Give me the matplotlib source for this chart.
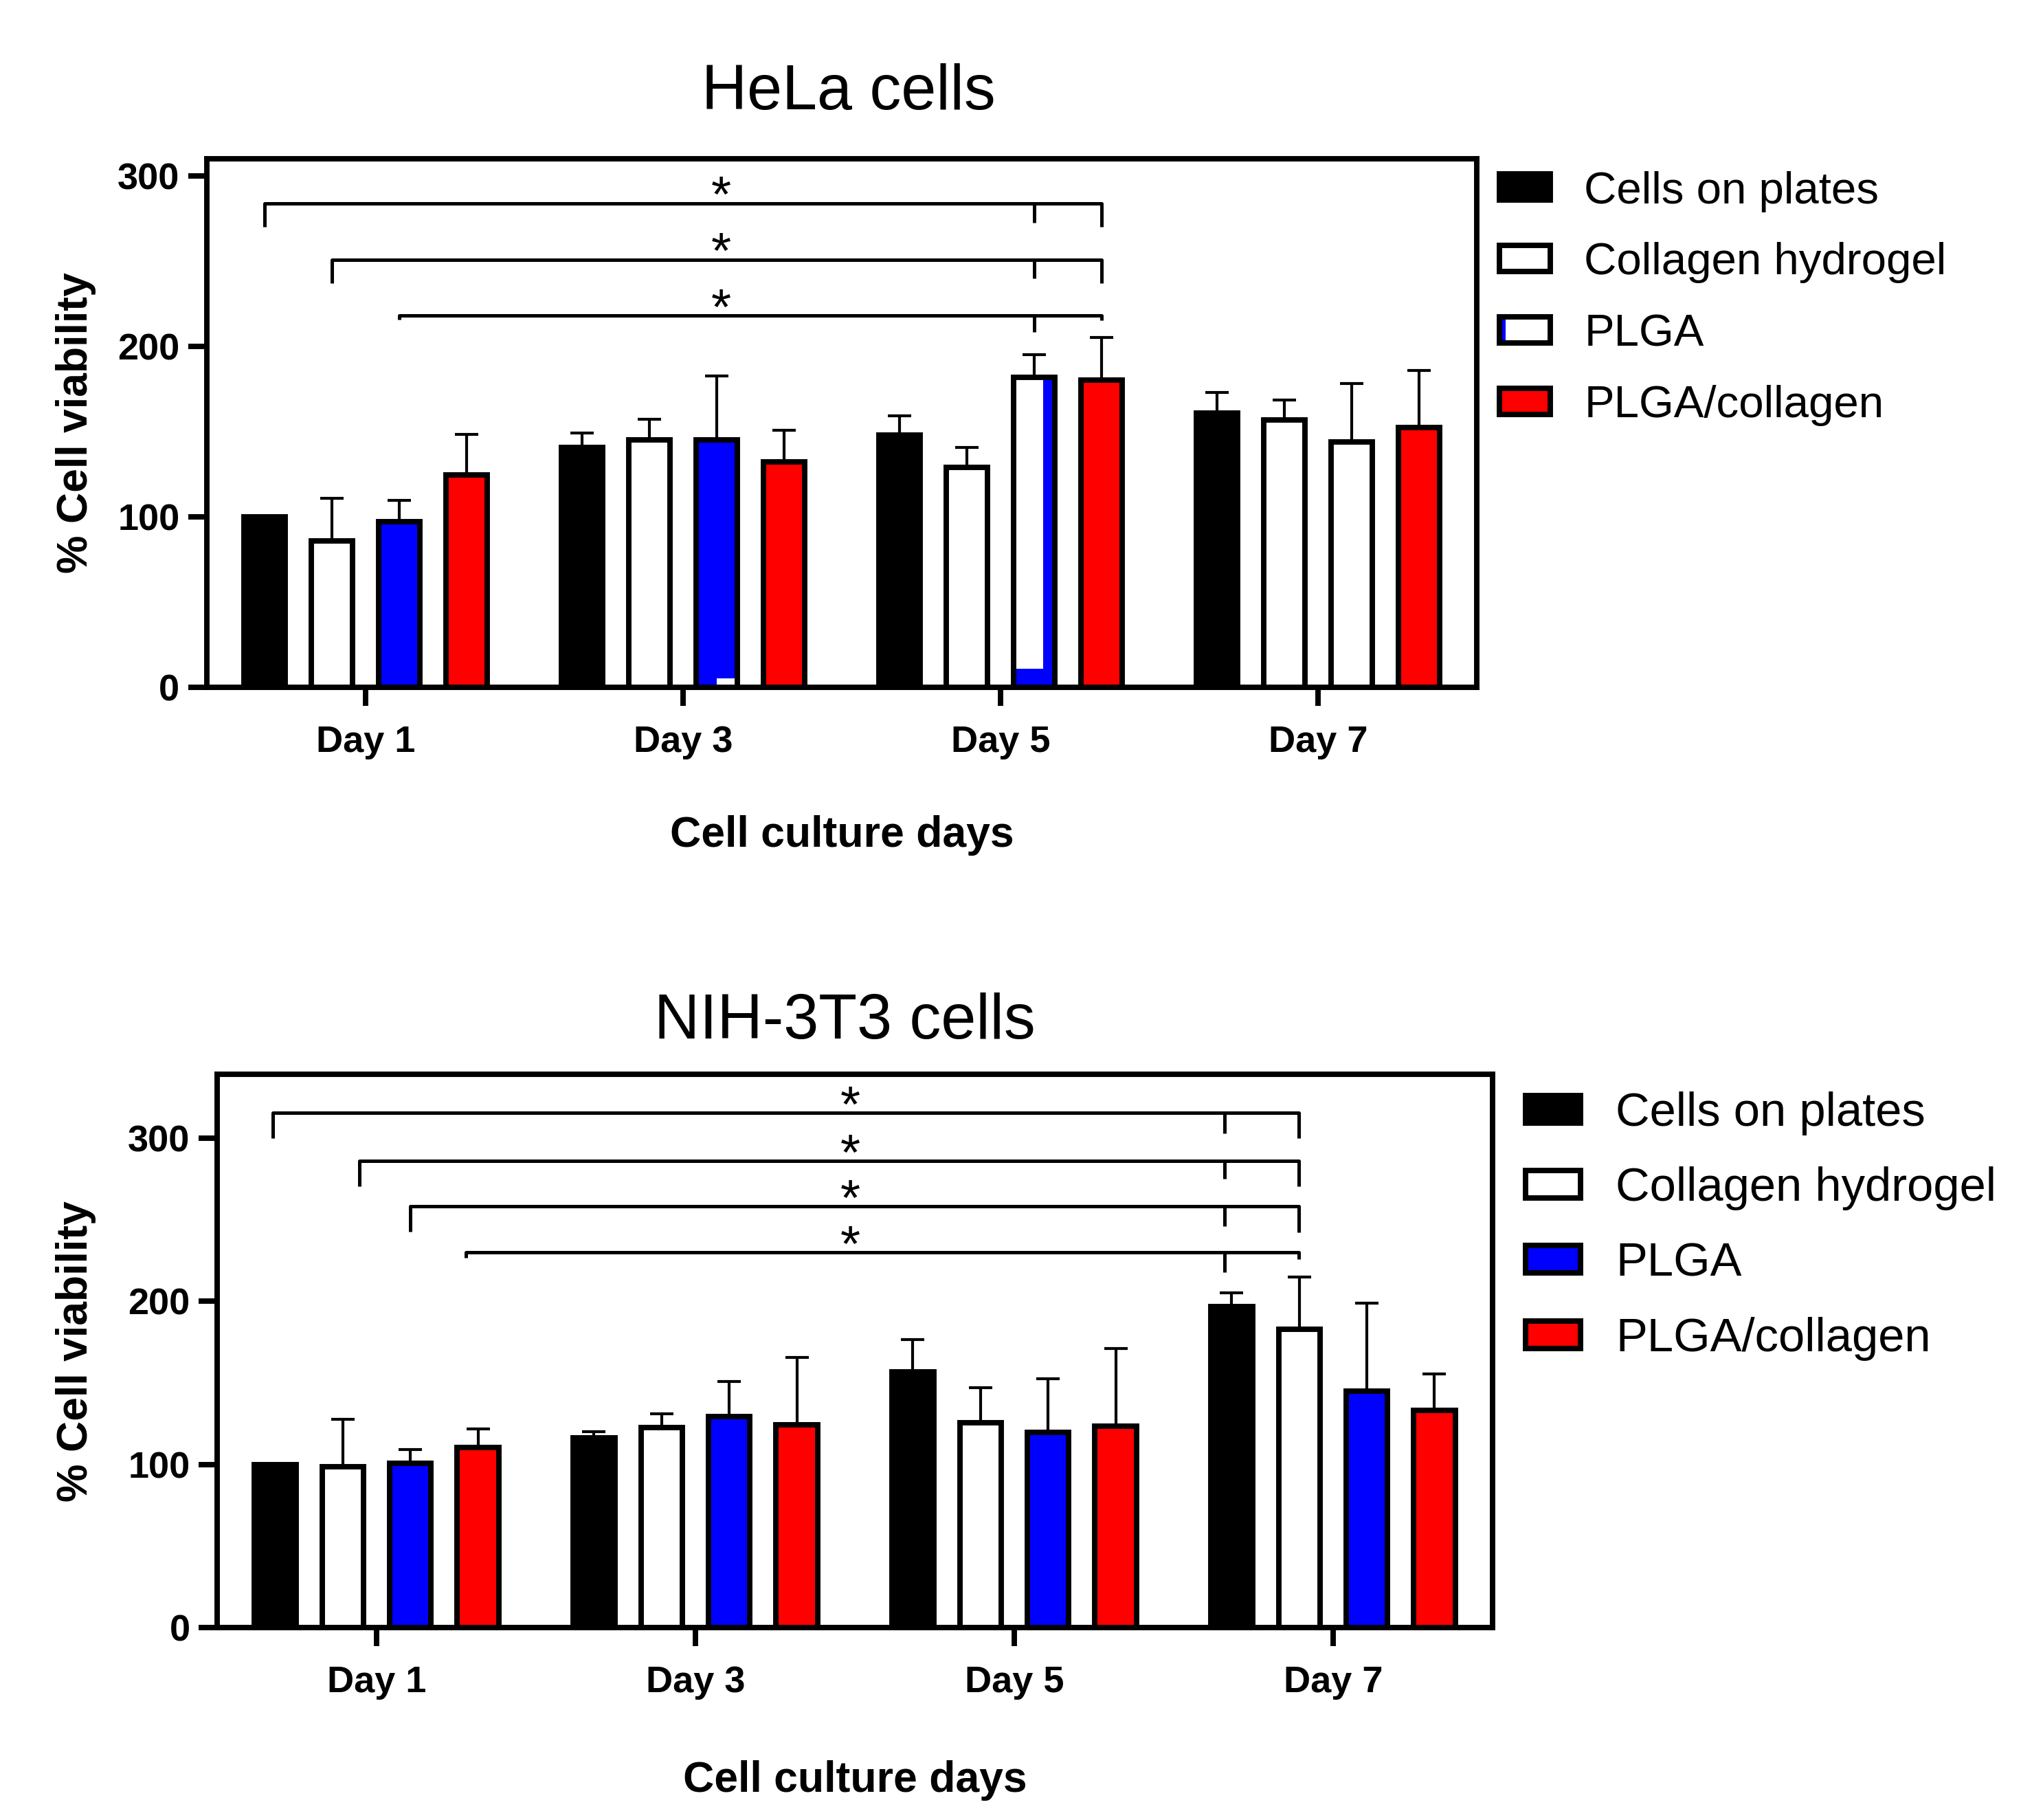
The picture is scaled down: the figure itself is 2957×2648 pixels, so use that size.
import matplotlib
matplotlib.use("Agg")
import matplotlib.pyplot as plt
import numpy as np
from matplotlib.legend_handler import HandlerBase
from matplotlib.patches import Patch, Rectangle

plt.rcParams["font.family"] = ["Liberation Sans", "DejaVu Sans"]

DAYS = ["Day 1", "Day 3", "Day 5", "Day 7"]
GROUPS = ["Cells on plates", "Collagen hydrogel", "PLGA", "PLGA/collagen"]

# HeLa cells (% viability, upper SD)
HELA_CELLS = [100.0, 140.8, 148.0, 161.0]
HELA_CELLS_ERR = [0.0, 8.2, 11.0, 12.0]
HELA_COLLAGEN = [86.0, 145.2, 129.0, 156.6]
HELA_COLLAGEN_ERR = [25.0, 12.1, 11.6, 11.8]
HELA_PLGA = [97.0, 145.2, 181.7, 143.9]
HELA_PLGA_ERR = [12.8, 37.2, 13.3, 34.1]
HELA_PLGA_COL = [124.4, 132.3, 180.0, 152.2]
HELA_PLGA_COL_ERR = [24.1, 18.5, 25.0, 33.4]

# NIH-3T3 cells
NIH_CELLS = [100.0, 116.3, 156.7, 196.5]
NIH_CELLS_ERR = [0.0, 3.9, 19.9, 8.5]
NIH_COLLAGEN = [98.5, 122.7, 125.6, 182.9]
NIH_COLLAGEN_ERR = [29.0, 8.5, 21.4, 31.8]
NIH_PLGA = [100.8, 129.2, 119.5, 145.0]
NIH_PLGA_ERR = [8.5, 21.4, 32.8, 53.9]
NIH_PLGA_COL = [110.5, 124.1, 123.4, 133.1]
NIH_PLGA_COL_ERR = [11.4, 41.6, 47.8, 22.4]

# significance brackets: level, left x, left leg end, mid leg end, right leg end
HELA_SIG_LEVEL = [283.8, 250.8, 218.0]
HELA_SIG_FROM = [-0.318, -0.106, 0.106]
HELA_SIG_FROM_LEG = [270.0, 237.0, 215.8]
HELA_SIG_MID = 2.106
HELA_SIG_MID_LEG = [272.6, 240.0, 208.4]
HELA_SIG_TO = 2.318
HELA_SIG_TO_LEG = [270.0, 237.0, 215.3]
HELA_STAR_X = 1.12

NIH_SIG_LEVEL = [315.3, 285.8, 258.0, 229.8]
NIH_SIG_FROM = [-0.325, -0.055, 0.105, 0.28]
NIH_SIG_FROM_LEG = [300.0, 270.5, 242.7, 226.4]
NIH_SIG_MID = 2.66
NIH_SIG_MID_LEG = [302.9, 275.0, 246.0, 217.9]
NIH_SIG_TO = 2.893
NIH_SIG_TO_LEG = [300.0, 270.3, 242.4, 225.9]
NIH_STAR_X = 1.486

COLORS = ["black", "white", "blue", "red"]
EDGE_LW = 1.9
BAR_W = 0.13
BAR_STEP = 0.212


class StripHandler(HandlerBase):
    """White legend box with a thin blue strip, as in the HeLa legend."""

    def create_artists(self, legend, orig_handle, xdescent, ydescent,
                       width, height, fontsize, trans):
        x0, y0 = -xdescent, -ydescent
        back = Rectangle((x0, y0), width, height, facecolor="white", lw=0,
                         transform=trans)
        strip = Rectangle((x0, y0), width * 0.12, height, facecolor="blue",
                          lw=0, transform=trans)
        box = Rectangle((x0, y0), width, height, facecolor="none",
                        edgecolor="black", lw=EDGE_LW, transform=trans)
        return [back, strip, box]


def draw_bars(ax, means, errs, faces):
    x = np.arange(len(DAYS))
    for i, (m, e, f) in enumerate(zip(means, errs, faces)):
        xi = x + (i - 1.5) * BAR_STEP
        ax.errorbar(xi, m, yerr=[np.zeros(len(e)), e], fmt="none",
                    ecolor="black", elinewidth=1.0, capsize=4, capthick=1.0,
                    zorder=2)
        ax.bar(xi, m, BAR_W, color=f, lw=0, zorder=3)
    return x


def outline_bars(ax, means):
    x = np.arange(len(DAYS))
    for i, m in enumerate(means):
        xi = x + (i - 1.5) * BAR_STEP
        ax.bar(xi, m, BAR_W, facecolor="none", edgecolor="black",
               lw=EDGE_LW, zorder=5)


def draw_brackets(ax, level, x_from, from_leg, x_mid, mid_leg, x_to, to_leg,
                  star_x):
    kw = dict(color="black", lw=1.2, solid_capstyle="butt", zorder=4)
    for lv, xf, fl, ml, tl in zip(level, x_from, from_leg, mid_leg, to_leg):
        ax.plot([xf, xf, x_to, x_to], [fl, lv, lv, tl], **kw)
        ax.plot([x_mid, x_mid], [lv, ml], **kw)
        ax.annotate("*", (star_x, lv), xytext=(0, -3),
                    textcoords="offset points", ha="center", va="baseline",
                    fontsize=18)


def style_axes(ax, ymax):
    ax.set_xlim(-0.5, 3.5)
    ax.set_ylim(0, ymax)
    ax.set_yticks([0, 100, 200, 300])
    ax.set_xticks(np.arange(len(DAYS)))
    ax.set_xticklabels(DAYS)
    for s in ax.spines.values():
        s.set_linewidth(EDGE_LW)
    ax.tick_params(axis="y", length=6.5, width=EDGE_LW, labelsize=13, pad=3)
    ax.tick_params(axis="x", length=6.5, width=EDGE_LW, labelsize=13, pad=6.7)
    for lab in ax.get_xticklabels() + ax.get_yticklabels():
        lab.set_fontweight("bold")


fig = plt.figure(figsize=(2957 / 300, 2648 / 300), dpi=300)
ax1 = fig.add_axes([0.1018, 0.6224, 0.7268 - 0.1018, 0.9128 - 0.6224])
ax2 = fig.add_axes([0.1069, 0.1057, 0.7345 - 0.1069, 0.4097 - 0.1057])

# HeLa panel
hela_means = [HELA_CELLS, HELA_COLLAGEN, HELA_PLGA, HELA_PLGA_COL]
hela_errs = [HELA_CELLS_ERR, HELA_COLLAGEN_ERR, HELA_PLGA_ERR, HELA_PLGA_COL_ERR]
hela_faces = ["black", "white", ["blue", "blue", "white", "white"], "red"]
x = draw_bars(ax1, hela_means, hela_errs, hela_faces)
plga_x = x + 0.5 * BAR_STEP
# partial pattern fills seen on the PLGA bars
ax1.bar(plga_x[1] + BAR_W / 4, 5, BAR_W / 2, color="white", lw=0, zorder=4)
ax1.bar(plga_x[2] + BAR_W / 2 - 0.018, HELA_PLGA[2], 0.036, color="blue",
        lw=0, zorder=4)
ax1.bar(plga_x[2], 11, BAR_W, color="blue", lw=0, zorder=4)
outline_bars(ax1, hela_means)
draw_brackets(ax1, HELA_SIG_LEVEL, HELA_SIG_FROM, HELA_SIG_FROM_LEG,
              HELA_SIG_MID, HELA_SIG_MID_LEG, HELA_SIG_TO, HELA_SIG_TO_LEG,
              HELA_STAR_X)
style_axes(ax1, 310)
ax1.set_xlabel("Cell culture days", fontsize=15, fontweight="bold",
               labelpad=19.5)

plga_handle = Patch(facecolor="white")
handles = [Patch(facecolor="black", edgecolor="black", lw=EDGE_LW),
           Patch(facecolor="white", edgecolor="black", lw=EDGE_LW),
           plga_handle,
           Patch(facecolor="red", edgecolor="black", lw=EDGE_LW)]
ax1.legend(handles, GROUPS, handler_map={plga_handle: StripHandler()},
           loc="upper left", bbox_to_anchor=(1.018, 0.977), frameon=False,
           fontsize=15.7, borderpad=0, borderaxespad=0, handlelength=1.13,
           handleheight=0.52, handletextpad=0.75, labelspacing=0.67)

# NIH-3T3 panel
nih_means = [NIH_CELLS, NIH_COLLAGEN, NIH_PLGA, NIH_PLGA_COL]
nih_errs = [NIH_CELLS_ERR, NIH_COLLAGEN_ERR, NIH_PLGA_ERR, NIH_PLGA_COL_ERR]
draw_bars(ax2, nih_means, nih_errs, COLORS)
outline_bars(ax2, nih_means)
draw_brackets(ax2, NIH_SIG_LEVEL, NIH_SIG_FROM, NIH_SIG_FROM_LEG,
              NIH_SIG_MID, NIH_SIG_MID_LEG, NIH_SIG_TO, NIH_SIG_TO_LEG,
              NIH_STAR_X)
style_axes(ax2, 339)
ax2.set_xlabel("Cell culture days", fontsize=15, fontweight="bold",
               labelpad=21)
handles2 = [Patch(facecolor=c, edgecolor="black", lw=EDGE_LW) for c in COLORS]
ax2.legend(handles2, GROUPS, loc="upper left", bbox_to_anchor=(1.026, 0.969),
           frameon=False, fontsize=16.5, borderpad=0, borderaxespad=0,
           handlelength=1.16, handleheight=0.52, handletextpad=0.75,
           labelspacing=0.66)

# titles and y labels
fig.text(0.4175, 0.9400, "HeLa cells", ha="center", va="baseline", fontsize=22)
fig.text(0.4156, 0.4295, "NIH-3T3 cells", ha="center", va="baseline",
         fontsize=22)
fig.text(0.0375, 0.7677, "% Cell viability", rotation=90, ha="center",
         va="center", fontsize=15, fontweight="bold")
fig.text(0.0375, 0.2577, "% Cell viability", rotation=90, ha="center",
         va="center", fontsize=15, fontweight="bold")

fig.savefig("out.png", dpi=300)
